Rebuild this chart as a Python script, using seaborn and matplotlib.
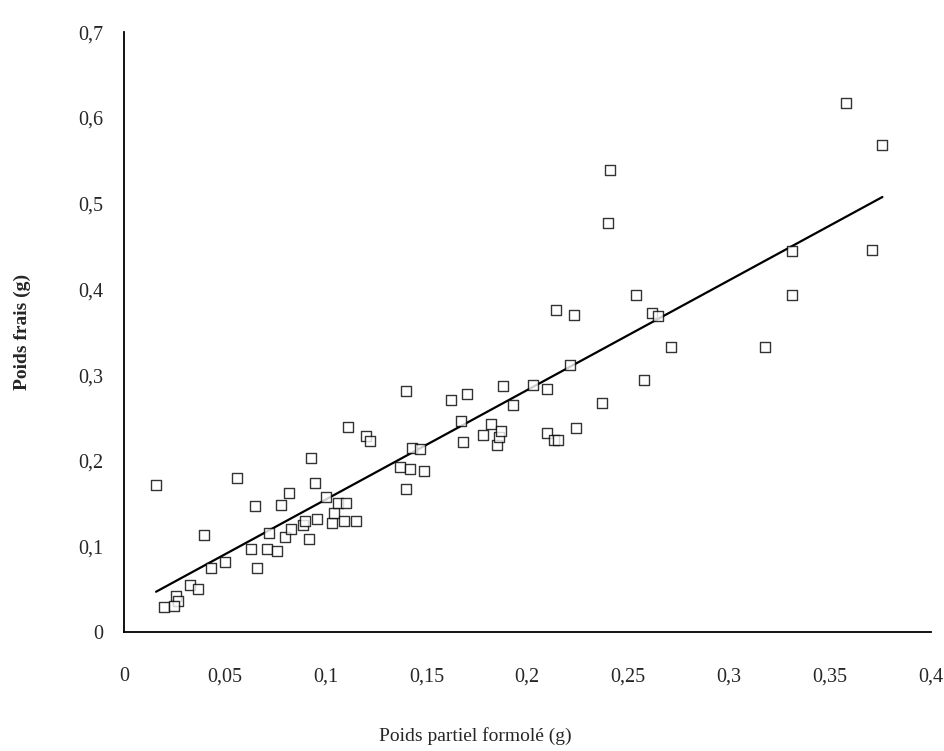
import matplotlib
matplotlib.use("Agg")
import matplotlib.pyplot as plt
import seaborn as sns
import numpy as np
import pandas as pd

poids_formole = [0.016, 0.020, 0.026, 0.027, 0.025, 0.033, 0.037, 0.040, 0.043, 0.050,
                 0.056, 0.063, 0.065, 0.066, 0.071, 0.072, 0.076, 0.078, 0.080, 0.082,
                 0.083, 0.089, 0.090, 0.092, 0.093, 0.095, 0.096, 0.100, 0.103, 0.104,
                 0.106, 0.109, 0.111, 0.110, 0.115, 0.120, 0.122, 0.137, 0.140, 0.140,
                 0.142, 0.143, 0.147, 0.149, 0.162, 0.167, 0.168, 0.170, 0.178, 0.182,
                 0.185, 0.186, 0.187, 0.188, 0.193, 0.203, 0.210, 0.210, 0.214, 0.213,
                 0.215, 0.221, 0.223, 0.224, 0.237, 0.240, 0.241, 0.254, 0.258, 0.262,
                 0.265, 0.271, 0.318, 0.331, 0.331, 0.358, 0.371, 0.376]
poids_frais = [0.172, 0.029, 0.042, 0.036, 0.031, 0.055, 0.051, 0.113, 0.075, 0.082,
               0.180, 0.097, 0.147, 0.075, 0.097, 0.116, 0.095, 0.148, 0.111, 0.163,
               0.121, 0.125, 0.130, 0.109, 0.203, 0.174, 0.132, 0.158, 0.128, 0.139,
               0.151, 0.130, 0.240, 0.151, 0.130, 0.229, 0.223, 0.193, 0.282, 0.167,
               0.191, 0.215, 0.214, 0.188, 0.271, 0.247, 0.222, 0.278, 0.230, 0.243,
               0.219, 0.228, 0.235, 0.287, 0.265, 0.289, 0.284, 0.232, 0.376, 0.224,
               0.224, 0.312, 0.370, 0.238, 0.267, 0.477, 0.539, 0.394, 0.294, 0.372,
               0.369, 0.333, 0.333, 0.393, 0.445, 0.617, 0.446, 0.568]

x_ticks = [0, 0.05, 0.1, 0.15, 0.2, 0.25, 0.3, 0.35, 0.4]
x_labels = ["0", "0,05", "0,1", "0,15", "0,2", "0,25", "0,3", "0,35", "0,4"]
y_ticks = [0, 0.1, 0.2, 0.3, 0.4, 0.5, 0.6, 0.7]
y_labels = ["0", "0,1", "0,2", "0,3", "0,4", "0,5", "0,6", "0,7"]

df = pd.DataFrame({"x": poids_formole, "y": poids_frais})

sns.set_style("white")
plt.rcParams["font.family"] = ["Liberation Serif", "DejaVu Serif"]

fig = plt.figure(figsize=(9.45, 7.51), dpi=100)
ax = fig.add_axes([0.131, 0.158, 0.854, 0.799])

sns.regplot(data=df, x="x", y="y", ax=ax, ci=None, truncate=True,
            marker="s",
            scatter_kws=dict(s=55, facecolors="white", edgecolors="black", linewidths=1.0, zorder=3),
            line_kws=dict(color="black", linewidth=1.6, zorder=2))

ax.set_xlim(0, 0.4)
ax.set_ylim(0, 0.7)
ax.set_xticks(x_ticks)
ax.set_xticklabels(x_labels)
ax.set_yticks(y_ticks)
ax.set_yticklabels(y_labels)
ax.tick_params(axis="both", direction="out", length=5, width=1, color="black",
               labelsize=14.5)
ax.tick_params(axis="x", pad=20)
ax.tick_params(axis="y", pad=10)
for s in ["top", "right"]:
    ax.spines[s].set_visible(False)
for s in ["left", "bottom"]:
    ax.spines[s].set_color("black")
    ax.spines[s].set_linewidth(1.3)
ax.set_xlabel("Poids partiel formolé (g)", fontsize=14)
ax.xaxis.set_label_coords(0.436, -0.158)
ax.set_ylabel("Poids frais (g)", fontsize=14, fontweight="bold")
ax.yaxis.set_label_coords(-0.115, 0.5)

fig.savefig("out.png", dpi=100)
